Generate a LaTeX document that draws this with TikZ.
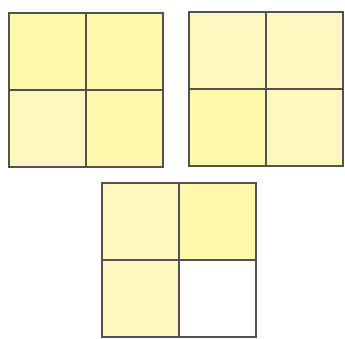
\documentclass[tikz,border=0pt]{standalone}
\usepackage{xcolor}
\definecolor{paper1}{rgb}{1.00, 0.97, 0.67}
\definecolor{paper2}{rgb}{1.00, 0.97, 0.75}
\definecolor{edge}{rgb}{0.32, 0.32, 0.32}
\begin{document}
\begin{tikzpicture}[x=1pt,y=-1pt,every node/.style={minimum size=77pt, inner sep=0pt, outer sep=0pt, draw=edge, line width=1.3pt}]
\useasboundingbox (0,0) rectangle (345,339);

% left square
\node[fill=paper1] (l11) at (47.5,51.5) {};
\node[fill=paper1] (l12) at (124.5,51.5) {};
\node[fill=paper2] (l21) at (47.5,128.5) {};
\node[fill=paper1] (l22) at (124.5,128.5) {};

% right square
\node[fill=paper2] (r11) at (227.5,50.5) {};
\node[fill=paper2] (r12) at (304.5,50.5) {};
\node[fill=paper1] (r21) at (227.5,127.5) {};
\node[fill=paper2] (r22) at (304.5,127.5) {};

% bottom square
\node[fill=paper2] (b11) at (140.5,221.5) {};
\node[fill=paper1] (b12) at (217.5,221.5) {};
\node[fill=paper2] (b21) at (140.5,298.5) {};
\node[fill=white]  (b22) at (217.5,298.5) {};

\end{tikzpicture}
\end{document}
